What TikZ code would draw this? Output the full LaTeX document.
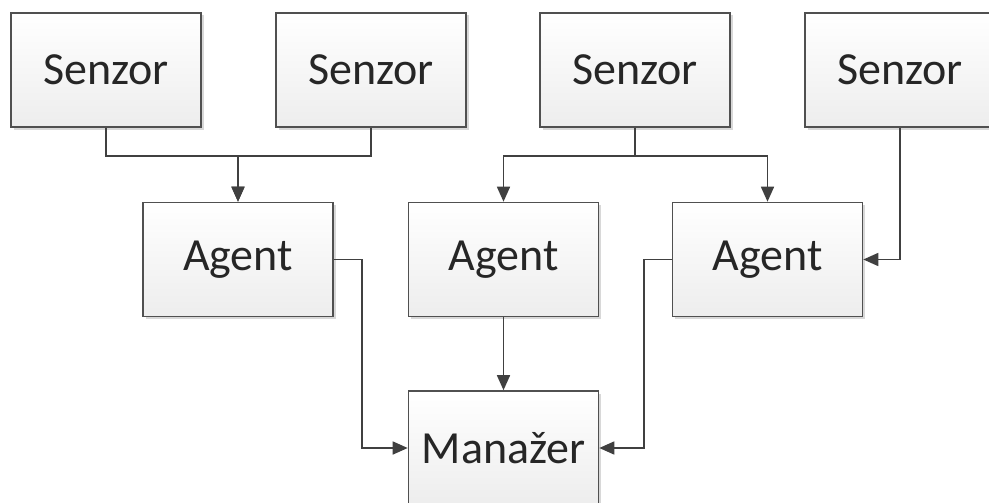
\documentclass[tikz,border=0pt]{standalone}
\usepackage{fontspec}
\setmainfont{Carlito}
\usetikzlibrary{arrows.meta,shadows}
\definecolor{edge}{HTML}{505050}
\definecolor{ink}{HTML}{404040}
\tikzset{
  box/.style={draw=edge, line width=1.6pt, top color=white, bottom color=black!7,
    minimum width=190pt, minimum height=114pt, inner sep=0pt,
    font=\fontsize{46}{52}\selectfont, text=black!85,
    drop shadow={shadow xshift=2.5pt, shadow yshift=-2.5pt, fill=black!25, opacity=0.6}},
  arr/.style={draw=ink, line width=1.6pt, -{Triangle[length=15pt,width=13pt]}},
}
\begin{document}
\begin{tikzpicture}[x=1pt, y=-1pt]
  \useasboundingbox (0,0) rectangle (989,503);
  \clip (0,0) rectangle (989,503);
  \fill[white] (0,0) rectangle (989,503);

  % sensors
  \node[box] (S1) at (106,70) {Senzor};
  \node[box] (S2) at (371,70) {Senzor};
  \node[box] (S3) at (635,70) {Senzor};
  \node[box] (S4) at (900,70) {Senzor};

  % agents
  \node[box] (A1) at (238,259.5) {Agent};
  \node[box] (A2) at (503.5,259.5) {Agent};
  \node[box] (A3) at (767.5,259.5) {Agent};

  % manager
  \node[box] (M) at (503.5,448) {Manažer};

  % sensor -> agent links
  \draw[arr] (S1.south) -- ++(0,28) -| (A1.north);
  \draw[arr] (S2.south) -- ++(0,28) -| (A1.north);
  \draw[arr] (S3.south) -- ++(0,28) -| (A2.north);
  \draw[arr] (S3.south) -- ++(0,28) -| (A3.north);
  \draw[arr] (S4.south) |- (A3.east);

  % agent -> manager links
  \draw[arr] (A1.east) -- ++(28,0) |- (M.west);
  \draw[arr] (A2.south) -- (M.north);
  \draw[arr] (A3.west) -- ++(-28,0) |- (M.east);
\end{tikzpicture}
\end{document}
